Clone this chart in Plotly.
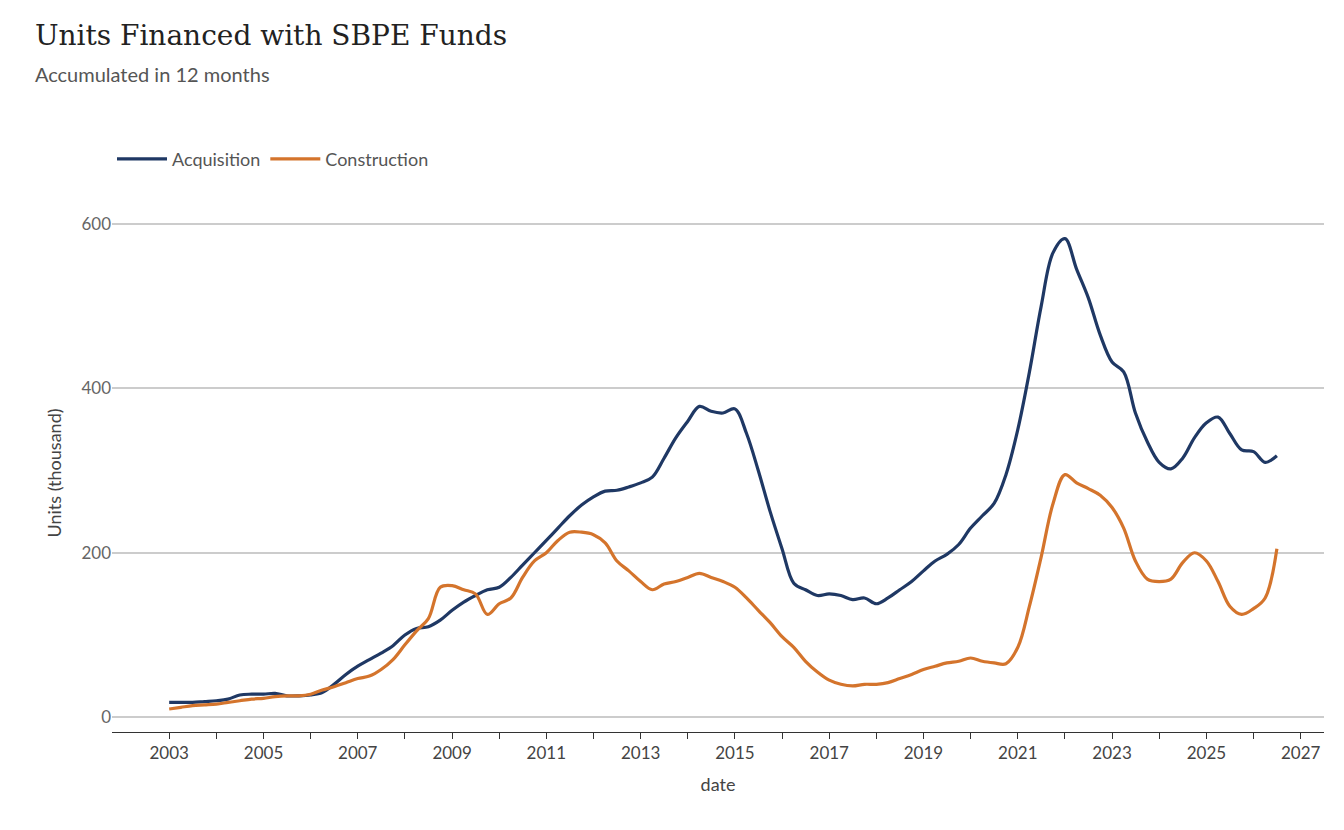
import pandas as pd
import plotly.graph_objects as go

# quarterly readings, thousand units, 12-month accumulated
dates = pd.date_range("2003-01-01", periods=95, freq="QS")

acquisition = [
    18, 18, 18, 19,  20, 22, 27, 28,  28, 29, 26, 26,  27, 30, 40, 52,
    62, 70, 78, 87,  100, 108, 110, 118,  130, 140, 148, 155,  158, 170, 185, 200,
    215, 230, 245, 258,  268, 275, 276, 280,  285, 292, 315, 340,  360, 378, 372, 370,
    375, 345, 300, 250,  205, 163, 155, 148,  150, 148, 143, 145,  138, 145, 155, 165,
    178, 190, 198, 210,  230, 245, 260, 295,  350, 420, 500, 565,  582, 545, 510, 465,
    432, 420, 370, 335,  310, 302, 315, 340,  358, 365, 345, 325,  323, 310, 318,
]
construction = [
    10, 12, 14, 15,  16, 18, 20, 22,  23, 25, 26, 26,  28, 33, 37, 42,
    47, 50, 58, 70,  88, 105, 120, 158,  160, 155, 150, 125,  138, 145, 170, 190,
    200, 215, 225, 225,  222, 212, 190, 178,  165, 155, 162, 165,  170, 175, 170, 165,
    158, 145, 130, 115,  98, 85, 68, 55,  45, 40, 38, 40,  40, 42, 47, 52,
    58, 62, 66, 68,  72, 68, 66, 65,  85, 135, 195, 260,  295, 285, 278, 270,
    255, 230, 190, 168,  165, 168, 188, 200,  190, 165, 135, 125,  132, 145, 205,
]

years = list(range(2003, 2028))
year_labels = [str(y) if y % 2 == 1 else "" for y in years]

fig = go.Figure()
fig.add_trace(go.Scatter(x=dates, y=acquisition, name="Acquisition", mode="lines",
                         line=dict(color="#1f3864", width=3.2, shape="spline")))
fig.add_trace(go.Scatter(x=dates, y=construction, name="Construction", mode="lines",
                         line=dict(color="#d4742c", width=3.2, shape="spline")))

fig.update_layout(
    width=1344, height=830,
    plot_bgcolor="white", paper_bgcolor="white",
    font=dict(family="Lato", size=18, color="#555555"),
    title=dict(
        text="Units Financed with SBPE Funds<br><span style='font-family:Lato;font-size:20px;color:#555555'>Accumulated in 12 months</span>",
        x=0.02, xanchor="left", y=0.955, yanchor="top",
        font=dict(family="DejaVu Serif", size=28, color="#222222"),
    ),
    legend=dict(orientation="h", x=0.0, y=1.106, xanchor="left", yanchor="middle",
                font=dict(size=18, color="#555555"), itemwidth=50),
    margin=dict(l=104, r=28, t=206, b=106),
    showlegend=True,
)
fig.update_xaxes(
    title_text="date", title_font=dict(size=18, color="#444444"),
    range=["2001-10-15", "2027-07-01"],
    tickvals=[f"{y}-01-01" for y in years], ticktext=year_labels,
    ticks="outside", ticklen=6, tickcolor="#333333",
    showline=True, linecolor="#333333", showgrid=False,
    tickfont=dict(size=17, color="#444444"),
)
fig.update_yaxes(
    title_text="Units (thousand)", title_font=dict(size=18, color="#444444"),
    range=[-18, 612],
    tickvals=[0, 200, 400, 600], showgrid=True, gridcolor="#cccccc", gridwidth=1.5,
    zeroline=False, tickfont=dict(size=17, color="#666666"),
)

fig.write_html("out.html")
